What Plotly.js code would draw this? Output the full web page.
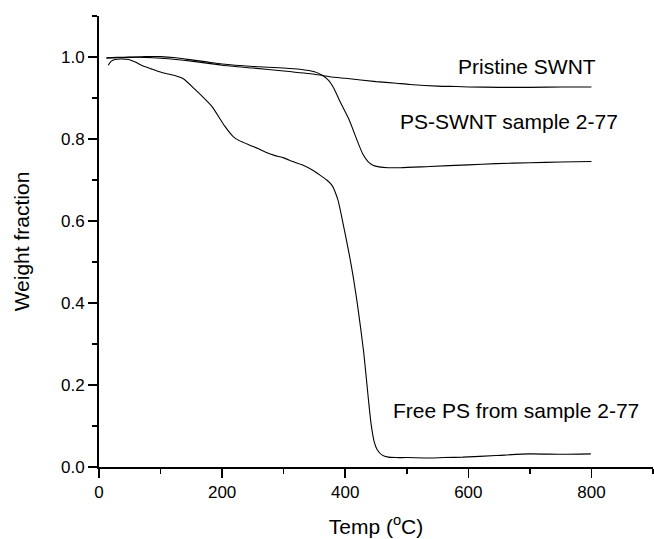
<!DOCTYPE html>
<html>
<head>
<meta charset="utf-8">
<script src="https://cdn.plot.ly/plotly-3.0.1.min.js"></script>
<style>
html,body{margin:0;padding:0;background:#fff;}
#chart{width:654px;height:539px;}
</style>
</head>
<body>
<div id="chart"></div>
<script>
// Temperature (°C) and weight fraction for each sample
const pristineT = [12, 30, 50, 75, 100, 125, 150, 175, 200, 250, 300, 350, 375, 400, 450, 483, 505, 550, 580, 600, 650, 700, 753, 800];
const pristineW = [0.998, 0.999, 1.000, 0.999, 0.997, 0.994, 0.990, 0.985, 0.980, 0.973, 0.966, 0.958, 0.952, 0.948, 0.940, 0.936, 0.933, 0.929, 0.928, 0.927, 0.926, 0.926, 0.927, 0.927];

const psswntT = [12, 30, 50, 75, 100, 125, 150, 175, 200, 250, 300, 326, 350, 362, 373, 381, 393, 406, 421, 429, 437, 445, 455, 470, 490, 537, 600, 645, 700, 750, 800];
const psswntW = [0.997, 0.998, 0.999, 1.001, 1.001, 0.998, 0.993, 0.988, 0.983, 0.977, 0.973, 0.970, 0.964, 0.956, 0.943, 0.925, 0.887, 0.848, 0.790, 0.762, 0.745, 0.736, 0.732, 0.730, 0.730, 0.733, 0.737, 0.740, 0.742, 0.744, 0.745];

const freePST = [15, 20, 26, 35, 48, 60, 69, 85, 102, 123, 137, 156, 183, 204, 218, 228, 245, 258, 272, 285, 300, 315, 330, 348, 359, 370, 378, 388, 397, 410, 420, 430, 437, 442, 447, 452, 460, 470, 483, 500, 537, 560, 591, 645, 699, 753, 799];
const freePSW = [0.980, 0.990, 0.994, 0.995, 0.994, 0.987, 0.980, 0.971, 0.962, 0.955, 0.947, 0.921, 0.880, 0.832, 0.806, 0.796, 0.785, 0.777, 0.767, 0.760, 0.754, 0.745, 0.737, 0.723, 0.712, 0.700, 0.688, 0.652, 0.590, 0.490, 0.395, 0.280, 0.175, 0.105, 0.062, 0.042, 0.029, 0.024, 0.023, 0.023, 0.022, 0.023, 0.024, 0.028, 0.032, 0.031, 0.032];

const labels = ["Pristine SWNT", "PS-SWNT sample 2-77", "Free PS from sample 2-77"];
const labelX = [580, 485, 474];
const labelY = [0.977, 0.842, 0.139];

const xTickVals = [0, 200, 400, 600, 800];
const yTickVals = [0.0, 0.2, 0.4, 0.6, 0.8, 1.0];

const FONT = '"Liberation Sans", Arial, Helvetica, sans-serif';
const lineStyle = {color: '#000', width: 1.1, shape: 'spline', smoothing: 0.6};

const traces = [
  {x: pristineT, y: pristineW, name: labels[0], mode: 'lines', line: lineStyle, type: 'scatter'},
  {x: psswntT, y: psswntW, name: labels[1], mode: 'lines', line: lineStyle, type: 'scatter'},
  {x: freePST, y: freePSW, name: labels[2], mode: 'lines', line: lineStyle, type: 'scatter'}
];

const annotations = labels.map((t, i) => ({
  text: t, x: labelX[i], y: labelY[i], xref: 'x', yref: 'y',
  xanchor: 'left', yanchor: 'middle', showarrow: false,
  font: {family: FONT, size: 21, color: '#000'}
}));

const layout = {
  width: 654, height: 539,
  margin: {l: 99, r: 1, t: 16, b: 72, pad: 0},
  paper_bgcolor: '#fff', plot_bgcolor: '#fff',
  showlegend: false,
  font: {family: FONT, color: '#000'},
  xaxis: {
    range: [0, 900], tickvals: xTickVals, ticktext: xTickVals.map(String),
    showgrid: false, zeroline: false, showline: true, linecolor: '#000', linewidth: 2,
    ticks: 'outside', ticklen: 9, tickwidth: 1.5, tickcolor: '#000',
    tickfont: {family: FONT, size: 17, color: '#000'},
    minor: {dtick: 100, tick0: 0, ticks: 'outside', ticklen: 5, tickwidth: 1.5, tickcolor: '#000', showgrid: false},
    title: {text: 'Temp (<sup>o</sup>C)', font: {family: FONT, size: 21, color: '#000'}, standoff: 18}
  },
  yaxis: {
    range: [0, 1.1], tickvals: yTickVals, ticktext: yTickVals.map(v => v.toFixed(1)),
    showgrid: false, zeroline: false, showline: true, linecolor: '#000', linewidth: 2,
    ticks: 'outside', ticklen: 9, tickwidth: 1.5, tickcolor: '#000',
    tickfont: {family: FONT, size: 17, color: '#000'},
    minor: {dtick: 0.1, tick0: 0, ticks: 'outside', ticklen: 5, tickwidth: 1.5, tickcolor: '#000', showgrid: false},
    title: {text: 'Weight fraction', font: {family: FONT, size: 21, color: '#000'}, standoff: 26}
  },
  annotations: annotations
};

Plotly.newPlot('chart', traces, layout, {displayModeBar: false, staticPlot: true});
</script>
</body>
</html>
